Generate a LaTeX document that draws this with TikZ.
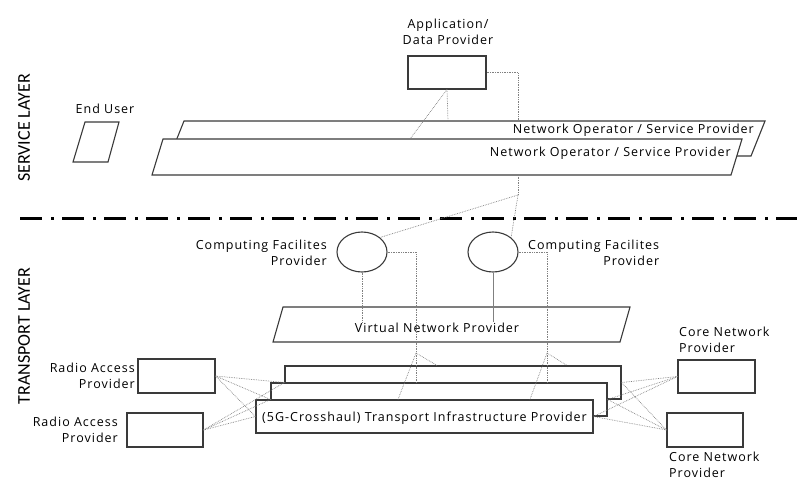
\documentclass[tikz,border=0pt]{standalone}
\usepackage{fontspec}
\setmainfont{Open Sans}[LetterSpace=8]
\newfontfamily\layerfont{Carlito}
\usetikzlibrary{shapes.geometric}

\definecolor{boxline}{HTML}{3A3A3A}
\tikzset{
  box/.style={draw=boxline, line width=1.1pt, fill=white, inner sep=0pt},
  link/.style={draw=gray, densely dotted, line width=0.7pt},
  txt/.style={font=\fontsize{12.5}{16.5}\selectfont, inner sep=0pt},
  layer/.style={font=\layerfont\fontsize{18}{20}\selectfont, rotate=90, inner sep=0pt}
}

\begin{document}
\begin{tikzpicture}[x=1pt,y=-1pt]
\useasboundingbox (0,0) rectangle (797,481);

% layer names and separator
\node[layer] (svc) at (24,128) {SERVICE LAYER};
\node[layer] (trn) at (24,336) {TRANSPORT LAYER};
\draw[line width=3pt, dash pattern=on 22pt off 9pt on 3pt off 8pt] (20,218) -- (797,218);

% service layer
\node[txt, align=center] (applbl) at (448,32) {Application/\\Data Provider};
\node[box, minimum width=78, minimum height=33] (app) at (447,72.5) {};
\node[txt] (eulbl) at (105,109) {End User};
\draw[box] (85,122) -- (119,122) -- (108,162) -- (73,162) -- cycle;

\draw[box] (184,121) -- (765,121) -- (751,156) -- (170,156) -- cycle;
\node[txt, anchor=base east] (nosp1) at (754,134) {Network Operator / Service Provider};
\draw[box] (163,139) -- (742,139) -- (731,175) -- (152,175) -- cycle;
\node[txt, anchor=base east] (nosp2) at (731,157) {Network Operator / Service Provider};

\coordinate (nb1) at (448,121);
\coordinate (nf1) at (410,139);
\coordinate (nb2) at (518,121);
\coordinate (nf2) at (518,175);
\coordinate (j1) at (518,195);

% transport layer
\node[draw=boxline, line width=1.1pt, ellipse, minimum width=50, minimum height=40, inner sep=0pt] (c1) at (362,252) {};
\node[draw=boxline, line width=1.1pt, ellipse, minimum width=50, minimum height=40, inner sep=0pt] (c2) at (493,252) {};
\node[txt, align=right, anchor=east] (c1lbl) at (327,253) {Computing Facilites\\Provider};
\node[txt, align=right, anchor=west] (c2lbl) at (528,253) {Computing Facilites\\Provider};

\draw[box] (283,307) -- (630,307) -- (620,342) -- (273,342) -- cycle;
\node[txt, anchor=base] (vnp) at (437,332) {Virtual Network Provider};

\node[box, minimum width=336, minimum height=33] (tipb) at (453,382.5) {};
\node[box, minimum width=336, minimum height=33] (tipm) at (439,399.5) {};
\node[box, minimum width=337, minimum height=33, txt, text depth=0pt] (tipf) at (424.5,416.5) {(5G-Crosshaul) Transport Infrastructure Provider};

\node[box, minimum width=77, minimum height=34] (ra1) at (176.5,376) {};
\node[box, minimum width=76, minimum height=34] (ra2) at (165,430) {};
\node[txt, align=right, anchor=east] (ra1lbl) at (135,376) {Radio Access\\Provider};
\node[txt, align=right, anchor=east] (ra2lbl) at (118,430) {Radio Access\\Provider};

\node[box, minimum width=77, minimum height=33] (cn1) at (716.5,376.5) {};
\node[box, minimum width=76, minimum height=34] (cn2) at (705,430) {};
\node[txt, align=left, anchor=west] (cn1lbl) at (679,340) {Core Network\\Provider};
\node[txt, align=left, anchor=west] (cn2lbl) at (669,465) {Core Network\\Provider};

\coordinate (t1) at (416,353);
\coordinate (t2) at (547,353);

% links
\path[link] (app.south) -- (nb1);
\path[link] (app.south) -- (nf1);
\path[link] (app.east) -| (nb2);
\path[link] (nf2) -- (j1);
\path[link] (j1) -- (c1.north east);
\path[link] (j1) -- (c2.north east);

\path[link] (c1.south) -- (c1.south |- vnp.north);
\path[draw=gray, line width=0.7pt] (c2.south) -- (c2.south |- vnp.north);

\path[link] (c1.east) -| (t1);
\path[link] (t1) -- (tipf.north west -| 398,0);
\path[link] (t1) -- (tipm.north west -| 416,0);
\path[link] (t1) -- (tipb.north west -| 437,0);
\path[link] (c2.east) -| (t2);
\path[link] (t2) -- (tipf.north west -| 530,0);
\path[link] (t2) -- (tipm.north west -| 547,0);
\path[link] (t2) -- (tipb.north west -| 567,0);

\foreach \ra in {ra1,ra2} {
  \path[link] (\ra.east) -- (tipb.west);
  \path[link] (\ra.east) -- (tipm.west);
  \path[link] (\ra.east) -- (tipf.west);
}
\foreach \cn in {cn1,cn2} {
  \path[link] (\cn.west) -- (tipb.east);
  \path[link] (\cn.west) -- (tipm.east);
  \path[link] (\cn.west) -- (tipf.east);
}
\end{tikzpicture}
\end{document}
